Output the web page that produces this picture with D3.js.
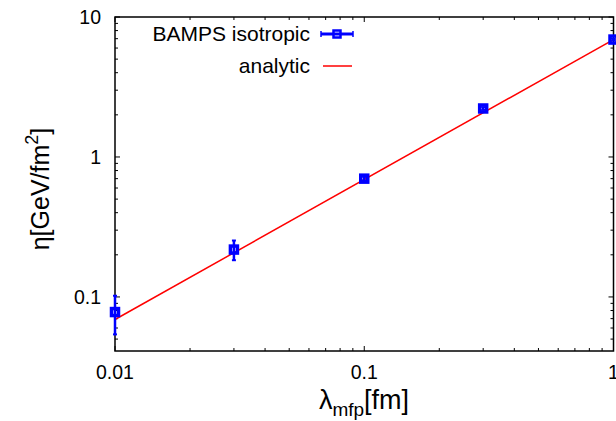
<!DOCTYPE html>
<html>
<head>
<meta charset="utf-8">
<script src="https://cdn.jsdelivr.net/npm/d3@7"></script>
<style>
  body { margin: 0; background: #fff; }
  text { font-family: "Liberation Sans", Arial, sans-serif; }
</style>
</head>
<body>
<div id="chart"></div>
<script>
// data
const lambda = [0.01, 0.03, 0.1, 0.3, 1];
const eta = [0.078, 0.218, 0.70, 2.22, 6.9];
const etaErr = [0.024, 0.035, 0.02, 0.05, 0.1];

const lambdaAnalytic = [0.01, 1];
const etaAnalytic = [0.069, 6.9];

const xTicks = [0.01, 0.1, 1];
const yTicks = [0.1, 1, 10];

const width = 616, height = 421;
const plotL = 115, plotR = 613.5, plotT = 17, plotB = 351;

let svg = d3.select("#chart")
  .append("svg")
    .attr("width", width)
    .attr("height", height)
;

let x = d3.scaleLog().domain([0.01, 1]).range([plotL, plotR]);
let y = d3.scaleLog().domain([0.0411, 10]).range([plotB, plotT]);

// minor ticks for log axes
function minors(scale) {
  let d = scale.domain();
  let out = [];
  for (let e = Math.floor(Math.log10(d[0])); e <= Math.ceil(Math.log10(d[1])); e++) {
    for (let k = 2; k <= 9; k++) {
      let v = k * Math.pow(10, e);
      if (v > d[0] && v < d[1]) out.push(v);
    }
  }
  return out;
}

let ticksG = svg.append("g").attr("stroke", "#000").attr("stroke-width", 1);

// x ticks, bottom and top, pointing inward
xTicks.forEach(function(v){
  ticksG.append("line").attr("x1", x(v)).attr("x2", x(v)).attr("y1", plotB).attr("y2", plotB - 5);
  ticksG.append("line").attr("x1", x(v)).attr("x2", x(v)).attr("y1", plotT).attr("y2", plotT + 5);
});
minors(x).forEach(function(v){
  ticksG.append("line").attr("x1", x(v)).attr("x2", x(v)).attr("y1", plotB).attr("y2", plotB - 3);
  ticksG.append("line").attr("x1", x(v)).attr("x2", x(v)).attr("y1", plotT).attr("y2", plotT + 3);
});
yTicks.forEach(function(v){
  ticksG.append("line").attr("y1", y(v)).attr("y2", y(v)).attr("x1", plotL).attr("x2", plotL + 5);
  ticksG.append("line").attr("y1", y(v)).attr("y2", y(v)).attr("x1", plotR).attr("x2", plotR - 5);
});
minors(y).forEach(function(v){
  ticksG.append("line").attr("y1", y(v)).attr("y2", y(v)).attr("x1", plotL).attr("x2", plotL + 3);
  ticksG.append("line").attr("y1", y(v)).attr("y2", y(v)).attr("x1", plotR).attr("x2", plotR - 3);
});

// frame
svg.append("rect")
  .attr("x", plotL).attr("y", plotT)
  .attr("width", plotR - plotL).attr("height", plotB - plotT)
  .attr("fill", "none").attr("stroke", "#000").attr("stroke-width", 1.5)
;

// tick labels
svg.selectAll(".xl").data(xTicks)
  .enter()
    .append("text")
    .attr("x", function(d){ return x(d); })
    .attr("y", 379)
    .attr("text-anchor", "middle")
    .attr("font-size", 19.5)
    .text(function(d){ return d; })
;
svg.selectAll(".yl").data(yTicks)
  .enter()
    .append("text")
    .attr("x", 101)
    .attr("y", function(d){ return y(d) + 7; })
    .attr("text-anchor", "end")
    .attr("font-size", 19.5)
    .text(function(d){ return d; })
;

// axis titles
let xt = svg.append("text")
  .attr("x", 364).attr("y", 409)
  .attr("text-anchor", "middle")
  .attr("font-size", 27)
;
xt.append("tspan").text("λ");
xt.append("tspan").attr("font-size", 19).attr("dy", 7).text("mfp");
xt.append("tspan").attr("dy", -7).text("[fm]");

let yt = svg.append("text")
  .attr("transform", "translate(49,189) rotate(-90)")
  .attr("text-anchor", "middle")
  .attr("font-size", 25)
;
yt.append("tspan").text("η[GeV/fm");
yt.append("tspan").attr("font-size", 18).attr("dy", -11).text("2");
yt.append("tspan").attr("dy", 11).text("]");

// analytic line
let line = d3.line()
  .x(function(d){ return x(d[0]); })
  .y(function(d){ return y(d[1]); });

svg.append("path")
  .datum(d3.zip(lambdaAnalytic, etaAnalytic))
  .attr("d", line)
  .attr("fill", "none")
  .attr("stroke", "#ff0000")
  .attr("stroke-width", 1.5)
;

// BAMPS points with error bars
let pts = d3.zip(lambda, eta, etaErr);
let blue = "#0000ff";

svg.selectAll(".err").data(pts)
  .enter()
    .append("line")
    .attr("x1", function(d){ return x(d[0]); })
    .attr("x2", function(d){ return x(d[0]); })
    .attr("y1", function(d){ return y(d[1] + d[2]); })
    .attr("y2", function(d){ return y(d[1] - d[2]); })
    .attr("stroke", blue)
    .attr("stroke-width", 2.5)
;
["hi", "lo"].forEach(function(side){
  svg.selectAll(".cap" + side).data(pts)
    .enter()
      .append("line")
      .attr("x1", function(d){ return x(d[0]) - 2; })
      .attr("x2", function(d){ return x(d[0]) + 2; })
      .attr("y1", function(d){ return y(side == "hi" ? d[1] + d[2] : d[1] - d[2]); })
      .attr("y2", function(d){ return y(side == "hi" ? d[1] + d[2] : d[1] - d[2]); })
      .attr("stroke", blue)
      .attr("stroke-width", 2)
  ;
});

svg.selectAll(".pt").data(pts)
  .enter()
    .append("rect")
    .attr("x", function(d){ return x(d[0]) - 3.5; })
    .attr("y", function(d){ return y(d[1]) - 3.5; })
    .attr("width", 7)
    .attr("height", 7)
    .attr("fill", "none")
    .attr("stroke", blue)
    .attr("stroke-width", 3.5)
;

// legend
svg.append("text")
  .attr("x", 310).attr("y", 41)
  .attr("text-anchor", "end")
  .attr("font-size", 21)
  .text("BAMPS isotropic")
;
svg.append("text")
  .attr("x", 310).attr("y", 73)
  .attr("text-anchor", "end")
  .attr("font-size", 21)
  .text("analytic")
;
svg.append("line")
  .attr("x1", 321).attr("x2", 353).attr("y1", 34).attr("y2", 34)
  .attr("stroke", blue).attr("stroke-width", 3)
;
[321, 353].forEach(function(cx){
  svg.append("line")
    .attr("x1", cx).attr("x2", cx).attr("y1", 31).attr("y2", 37)
    .attr("stroke", blue).attr("stroke-width", 1.5);
});
svg.append("rect")
  .attr("x", 337 - 3.5).attr("y", 34 - 3.5)
  .attr("width", 7).attr("height", 7)
  .attr("fill", "none").attr("stroke", blue).attr("stroke-width", 2.5)
;
svg.append("line")
  .attr("x1", 323).attr("x2", 352).attr("y1", 66).attr("y2", 66)
  .attr("stroke", "#ff0000").attr("stroke-width", 1.5)
;
</script>
</body>
</html>
